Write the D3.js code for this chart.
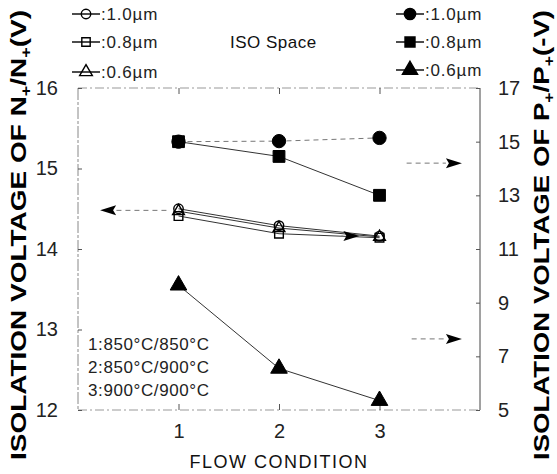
<!DOCTYPE html>
<html>
<head>
<meta charset="utf-8">
<script src="https://cdn.jsdelivr.net/npm/d3@7"></script>
<style>
  body { margin: 0; background: #fff; }
  svg { display: block; font-family: "Liberation Sans", Arial, sans-serif; }
  .tick text { font-size: 20px; fill: #222; }
  .tick line { stroke: #555; }
</style>
</head>
<body>
<svg id="chart"></svg>
<script>
// flow conditions on the x axis
var FLOW = [1, 2, 3];
var X_TICKS = [1, 2, 3];
var LEFT_TICKS = [12, 13, 14, 15, 16];
var RIGHT_TICKS = [5, 7, 9, 11, 13, 15, 17];

// N+/N+ isolation voltage (left axis, V), open symbols
var N_10 = [14.50, 14.29, 14.16];
var N_08 = [14.41, 14.19, 14.14];
var N_06 = [14.47, 14.26, 14.15];

// P+/P+ isolation voltage (right axis, -V), filled symbols
var P_10 = [15.00, 15.02, 15.14];
var P_08 = [15.00, 14.45, 13.00];
var P_06 = [9.65, 6.55, 5.35];

var SIZES = ["1.0\u00b5m", "0.8\u00b5m", "0.6\u00b5m"];
var CONDITIONS = ["1:850\u00b0C/850\u00b0C", "2:850\u00b0C/900\u00b0C", "3:900\u00b0C/900\u00b0C"];

(function () {
    var W = 557, H = 474;
    var LEFT = 78, RIGHT = 480, TOP = 88, BOTTOM = 410;

    var x = d3.scaleLinear().domain([0, 4]).range([LEFT, RIGHT]);
    var yL = d3.scaleLinear().domain([12, 16]).range([BOTTOM, TOP]);
    var yR = d3.scaleLinear().domain([5, 17]).range([BOTTOM, TOP]);
    var fmt = d3.format("d");

    var svg = d3.select("#chart").attr("width", W).attr("height", H);

    function symbolPath(type, size) {
        return d3.symbol().type(type).size(size)();
    }

    var SERIES = [
        {v: N_10, y: yL, type: d3.symbolCircle, size: 70, open: true, dash: null},
        {v: N_06, y: yL, type: d3.symbolTriangle, size: 60, open: true, dash: null},
        {v: N_08, y: yL, type: d3.symbolSquare, size: 75, open: true, dash: null},
        {v: P_10, y: yR, type: d3.symbolCircle, size: 140, open: false, dash: "5,4"},
        {v: P_08, y: yR, type: d3.symbolSquare, size: 140, open: false, dash: null},
        {v: P_06, y: yR, type: d3.symbolTriangle, size: 120, open: false, dash: null}
    ];

    function drawFrame() {
        var f = svg.append("g").attr("fill", "none");
        f.append("line").attr("x1", LEFT).attr("x2", RIGHT).attr("y1", TOP).attr("y2", TOP)
            .attr("stroke", "#999").attr("stroke-dasharray", "9,3,2,3");
        f.append("line").attr("x1", LEFT).attr("x2", RIGHT).attr("y1", BOTTOM).attr("y2", BOTTOM)
            .attr("stroke", "#999").attr("stroke-dasharray", "9,3,2,3");
        f.append("line").attr("x1", LEFT).attr("x2", LEFT).attr("y1", TOP).attr("y2", BOTTOM)
            .attr("stroke", "#888").attr("stroke-dasharray", "12,2,3,2");
        f.append("line").attr("x1", RIGHT).attr("x2", RIGHT).attr("y1", TOP).attr("y2", BOTTOM)
            .attr("stroke", "#444");
    }

    function drawAxes() {
        var bottom = svg.append("g").attr("transform", "translate(0," + BOTTOM + ")")
            .call(d3.axisBottom(x).tickValues(X_TICKS).tickFormat(fmt).tickSize(-6).tickPadding(14));
        var top = svg.append("g").attr("transform", "translate(0," + TOP + ")")
            .call(d3.axisTop(x).tickValues(X_TICKS).tickSize(-6).tickFormat(""));
        var left = svg.append("g").attr("transform", "translate(" + LEFT + ",0)")
            .call(d3.axisLeft(yL).tickValues(LEFT_TICKS).tickFormat(fmt).tickSize(-4).tickPadding(20));
        var right = svg.append("g").attr("transform", "translate(" + RIGHT + ",0)")
            .call(d3.axisRight(yR).tickValues(RIGHT_TICKS).tickFormat(fmt).tickSize(-4).tickPadding(18));
        [bottom, top, left, right].forEach(function (g) { g.select(".domain").remove(); });
        bottom.selectAll("text").attr("font-size", 19);

        svg.append("text")
            .attr("x", (x(1) + x(3)) / 2).attr("y", 468)
            .attr("text-anchor", "middle").attr("font-size", 18)
            .attr("letter-spacing", 1.5).attr("fill", "#111")
            .text("FLOW CONDITION");

        yTitle(18, "N", "(V)");
        yTitle(541, "P", "(-V)");
    }

    function yTitle(cx, letter, unit) {
        var t = svg.append("text")
            .attr("transform", "translate(" + cx + "," + 460 + ") rotate(-90)")
            .attr("font-size", 22).attr("font-weight", "bold").attr("fill", "#000")
            .attr("dy", "0.35em")
            .attr("textLength", 450).attr("lengthAdjust", "spacingAndGlyphs");
        t.append("tspan").text("ISOLATION VOLTAGE OF " + letter);
        t.append("tspan").attr("font-size", 14).attr("dy", 5).text("+");
        t.append("tspan").attr("dy", -5).text("/" + letter);
        t.append("tspan").attr("font-size", 14).attr("dy", 5).text("+");
        t.append("tspan").attr("dy", -5).text(unit);
    }

    function drawSeries() {
        var line = d3.line();
        SERIES.forEach(function (s) {
            var pts = FLOW.map(function (f, i) { return [x(f), s.y(s.v[i])]; });
            svg.append("path").attr("d", line(pts)).attr("fill", "none")
                .attr("stroke", s.dash ? "#777" : "#333").attr("stroke-width", 1)
                .attr("stroke-dasharray", s.dash);
        });
        SERIES.forEach(function (s) {
            svg.append("g").selectAll("path").data(s.v).join("path")
                .attr("transform", function (d, i) { return "translate(" + x(FLOW[i]) + "," + s.y(d) + ")"; })
                .attr("d", symbolPath(s.type, s.size))
                .attr("fill", s.open ? "none" : "#000")
                .attr("stroke", "#000").attr("stroke-width", s.open ? 1.4 : 1);
        });
    }

    function arrow(x0, x1, yv) {
        var dir = x1 > x0 ? 1 : -1;
        var tip = x1, base = x1 - dir * 16;
        svg.append("line").attr("x1", x0).attr("x2", base).attr("y1", yv).attr("y2", yv)
            .attr("stroke", "#777").attr("stroke-dasharray", "5,4");
        svg.append("path")
            .attr("d", "M" + tip + "," + yv + "L" + base + "," + (yv - 5) + "L" + (base + dir * 3) + "," + yv +
                "L" + base + "," + (yv + 5) + "Z")
            .attr("fill", "#000");
    }

    function drawArrows() {
        arrow(x(0.88), x(0.22), yL(14.48));
        arrow(x(3.27), x(3.82), yR(14.2));
        arrow(x(3.32), x(3.82), yR(7.65));
        // small pointer on the left-axis curves near condition 3
        arrow(x(2.62), x(2.8), yL(14.16));
    }

    function drawLegend() {
        var open = [d3.symbolCircle, d3.symbolSquare, d3.symbolTriangle];
        var rowsL = [14, 42, 72];
        var rowsR = [14, 42, 70];
        SIZES.forEach(function (s, i) {
            legendRow(72, rowsL[i], open[i], true, s);
            legendRow(396, rowsR[i], open[i], false, s);
        });
        svg.append("text").attr("x", 230).attr("y", 42).attr("dy", "0.35em")
            .attr("font-size", 17).attr("letter-spacing", 0.5).attr("fill", "#111").text("ISO Space");
    }

    function legendRow(x0, yy, type, isOpen, label) {
        var g = svg.append("g").attr("transform", "translate(" + x0 + "," + yy + ")");
        g.append("line").attr("x1", 0).attr("x2", 28).attr("stroke", "#000").attr("stroke-width", 1.4);
        g.append("path").attr("transform", "translate(14,0)")
            .attr("d", symbolPath(type, isOpen ? 70 : 100))
            .attr("fill", isOpen ? "none" : "#000").attr("stroke", "#000").attr("stroke-width", 1.4);
        g.append("text").attr("x", 29).attr("dy", "0.35em").attr("font-size", 17)
            .attr("letter-spacing", 0.8).attr("fill", "#222").text(":" + label);
    }

    function drawConditions() {
        svg.append("g").selectAll("text").data(CONDITIONS).join("text")
            .attr("x", 88).attr("y", function (d, i) { return 344 + i * 23; })
            .attr("dy", "0.35em").attr("font-size", 17).attr("letter-spacing", 0.6).attr("fill", "#222")
            .text(function (d) { return d; });
    }

    drawFrame();
    drawAxes();
    drawSeries();
    drawArrows();
    drawLegend();
    drawConditions();
}());
</script>
</body>
</html>
